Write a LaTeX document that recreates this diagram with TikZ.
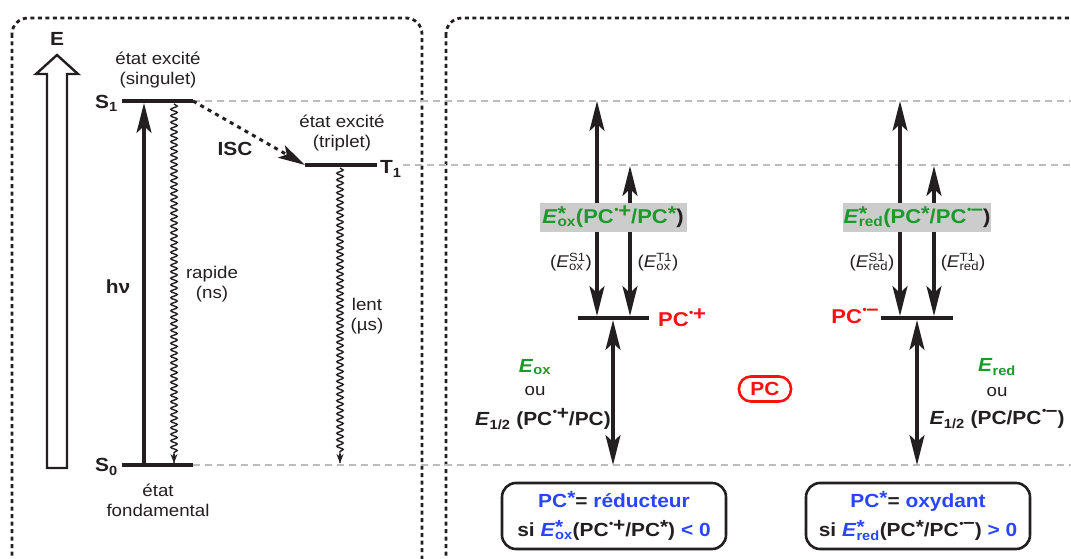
\documentclass[tikz,border=0pt]{standalone}
\usepackage{fontspec}
\setmainfont{Liberation Sans}[FakeStretch=1.1]
\usetikzlibrary{arrows.meta,decorations.pathmorphing,calc}
\definecolor{ink}{HTML}{231F20}
\definecolor{grn}{HTML}{1A9A2A}
\definecolor{rd}{HTML}{FF1010}
\definecolor{blu}{HTML}{2A45FF}
\definecolor{gline}{HTML}{BDBDBD}
\definecolor{gbox}{HTML}{CCCCCC}
\newcommand{\rcat}{\kern0.03em\raisebox{0.5em}{\fontsize{11}{11}\selectfont •}\kern-0.02em\raisebox{0.3em}{+}}
\newcommand{\rani}{\kern0.03em\raisebox{0.5em}{\fontsize{11}{11}\selectfont •}\kern-0.02em\raisebox{0.42em}{–}}
\newcommand{\stx}{\raisebox{0.18em}{*}}
\newcommand{\SupSub}[2]{{\setbox0\hbox{#1}\setbox2\hbox{#2}\ifdim\wd0>\wd2 \rlap{\box2}\box0\else\rlap{\box0}\box2\fi}}
\tikzset{
  txt/.style={font=\fontsize{17}{20}\selectfont, text=ink, align=center, inner sep=0pt},
  btxt/.style={font=\bfseries\fontsize{19}{22}\selectfont, text=ink, align=center, inner sep=0pt},
  bar/.style={line width=4.5pt, draw=ink},
  arr/.style={line width=3.2pt, draw=ink, -{Stealth[length=30pt,width=15pt,inset=7pt]}},
  darr/.style={line width=3.2pt, draw=ink, {Stealth[length=30pt,width=15pt,inset=7pt]}-{Stealth[length=30pt,width=15pt,inset=7pt]}},
  wavy/.style={draw=ink, line width=1.4pt, decorate, decoration={snake, amplitude=3.2pt, segment length=6.5pt, post length=9pt}},
  level/.style={draw=gline, line width=1.3pt, dash pattern=on 7pt off 5pt},
  frame/.style={draw=ink, line width=2.8pt, dash pattern=on 4pt off 3.5pt, rounded corners=16pt},
  gbx/.style={fill=gbox, inner sep=0pt, minimum height=29pt, font=\bfseries\fontsize{20}{22}\selectfont, text=grn},
  resbox/.style={draw=ink, line width=2.6pt, rounded corners=14pt, minimum width=224pt, minimum height=66pt, inner sep=0pt, align=center, font=\bfseries\fontsize{19}{29}\selectfont, text=ink},
}
\begin{document}
\begin{tikzpicture}[x=1pt,y=-1pt]
\useasboundingbox (0,0) rectangle (1071,559);
\begin{scope}
\clip (0,0) rectangle (1071,559);
% frames
\draw[frame] (12,18) rectangle (422,590);
\draw[frame] (446,18) rectangle (1100,590);
% level lines
\coordinate (S1l) at (122,101); \coordinate (S1r) at (193,101);
\coordinate (T1l) at (305,165); \coordinate (T1r) at (377,165);
\coordinate (S0l) at (122,465); \coordinate (S0r) at (193,465);
\coordinate (L1e) at (1071,101); \coordinate (L2s) at (403,165); \coordinate (L2e) at (1071,165);
\coordinate (L0e) at (1071,465);
\draw[level] (S1r) -- (L1e);
\draw[level] (L2s) -- (L2e);
\draw[level] (S0r) -- (L0e);
\end{scope}
% energy arrow
\draw[line width=2.4pt, draw=ink, fill=white, line join=miter] (47,468) -- (47,74) -- (36,74) -- (57,55) -- (78,74) -- (67,74) -- (67,468) -- cycle;
\node[btxt] (E) at (57,39) {E};
% levels
\draw[bar] (S1l) -- (S1r);
\draw[bar] (T1l) -- (T1r);
\draw[bar] (S0l) -- (S0r);
\node[btxt, anchor=east] (S1) at (118,103) {S\textsubscript{1}};
\node[btxt, anchor=east] (S0) at (118,467) {S\textsubscript{0}};
\node[btxt, anchor=west] (T1) at (380,169) {T\textsubscript{1}};
\node[txt] (singlab) at (158,70) {état excité\\(singulet)};
\node[txt] (triplab) at (342,133) {état excité\\(triplet)};
\node[txt] (fondlab) at (158,500) {état\\fondamental};
% transitions
\coordinate (hvB) at (144,463); \coordinate (hvT) at (144,103);
\draw[arr] (hvB) -- (hvT);
\node[btxt] (hv) at (118,287) {hν};
\coordinate (w1a) at (174,104); \coordinate (w1b) at (174,463);
\draw[wavy] (w1a) -- (w1b);
\draw[draw=ink, line width=1.3pt, -{Stealth[length=9pt,width=7pt]}] ($(w1b)+(0,-9)$) -- (w1b);
\coordinate (w2a) at (340,168); \coordinate (w2b) at (340,463);
\draw[wavy] (w2a) -- (w2b);
\draw[draw=ink, line width=1.3pt, -{Stealth[length=9pt,width=7pt]}] ($(w2b)+(0,-9)$) -- (w2b);
\node[txt] (rap) at (212,284) {rapide\\(ns)};
\node[txt] (lent) at (367,316) {lent\\(µs)};
\draw[draw=ink, line width=3pt, dash pattern=on 4pt off 4.5pt, -{Stealth[length=27pt,width=14pt,inset=6pt]}] (S1r) -- (T1l);
\node[btxt] (isc) at (235,149) {ISC};
% right panel: oxidative
\coordinate (Bol) at (578,318); \coordinate (Bor) at (649,318);
\draw[bar] (Bol) -- (Bor);
\coordinate (a1b) at (597,316); \coordinate (a1t) at (597,101);
\coordinate (a2b) at (630,316); \coordinate (a2t) at (630,166);
\coordinate (a3t) at (613,320); \coordinate (a3b) at (613,465);
\draw[darr] (a1b) -- (a1t);
\draw[darr] (a2b) -- (a2t);
\draw[darr] (a3t) -- (a3b);
\node[gbx, minimum width=147pt] (gox) at (613,217) {\textit{E}\SupSub{\raisebox{0.15em}{*}}{\textsubscript{ox}}(PC\rcat/PC\stx\textcolor{ink}{)}};
\node[txt] (s1ox) at (571,262) {(\textit{E}\SupSub{\textsuperscript{S1}}{\textsubscript{ox}})};
\node[txt] (t1ox) at (658,262) {(\textit{E}\SupSub{\textsuperscript{T1}}{\textsubscript{ox}})};
\node[btxt, text=rd, font=\bfseries\fontsize{20}{22}\selectfont] (pcc) at (682,318) {PC\rcat};
\node[btxt, text=grn] (eox) at (535,367) {\textit{E}\textsubscript{ox}};
\node[txt] (ou1) at (535,391) {ou};
\node[btxt] (e12ox) at (543,419) {\textit{E}\textsubscript{1/2} (PC\rcat/PC)};
% right panel: reductive
\coordinate (Brl) at (881,318); \coordinate (Brr) at (953,318);
\draw[bar] (Brl) -- (Brr);
\coordinate (b1b) at (900,316); \coordinate (b1t) at (900,101);
\coordinate (b2b) at (934,316); \coordinate (b2t) at (934,166);
\coordinate (b3t) at (917,320); \coordinate (b3b) at (917,465);
\draw[darr] (b1b) -- (b1t);
\draw[darr] (b2b) -- (b2t);
\draw[darr] (b3t) -- (b3b);
\node[gbx, minimum width=148pt] (gred) at (917,217) {\textit{E}\SupSub{\raisebox{0.15em}{*}}{\textsubscript{red}}(PC\stx/PC\rani\textcolor{ink}{)}};
\node[txt] (s1red) at (872,262) {(\textit{E}\SupSub{\textsuperscript{S1}}{\textsubscript{red}})};
\node[txt] (t1red) at (963,262) {(\textit{E}\SupSub{\textsuperscript{T1}}{\textsubscript{red}})};
\node[btxt, text=rd, font=\bfseries\fontsize{20}{22}\selectfont] (pca) at (855,316) {PC\rani};
\node[btxt, text=grn] (ered) at (997,367) {\textit{E}\textsubscript{red}};
\node[txt] (ou2) at (997,392) {ou};
\node[btxt] (e12red) at (997,419) {\textit{E}\textsubscript{1/2} (PC/PC\rani)};
% PC
\node[draw=rd, line width=2.6pt, rounded corners=12pt, minimum width=52pt, minimum height=25pt, inner sep=0pt, text=rd, font=\bfseries\fontsize{19}{22}\selectfont] (pc) at (765,389) {PC};
% result boxes
\node[resbox] (resox) at (614,516) {\textcolor{blu}{PC\stx}= \textcolor{blu}{réducteur}\\si \textcolor{blu}{\textit{E}\SupSub{\raisebox{0.15em}{*}}{\textsubscript{ox}}}(PC\rcat/PC\stx) \textcolor{blu}{< 0}};
\node[resbox] (resred) at (918,516) {\textcolor{blu}{PC\stx}= \textcolor{blu}{oxydant}\\si \textcolor{blu}{\textit{E}\SupSub{\raisebox{0.15em}{*}}{\textsubscript{red}}}(PC\stx/PC\rani) \textcolor{blu}{> 0}};
\end{tikzpicture}
\end{document}
